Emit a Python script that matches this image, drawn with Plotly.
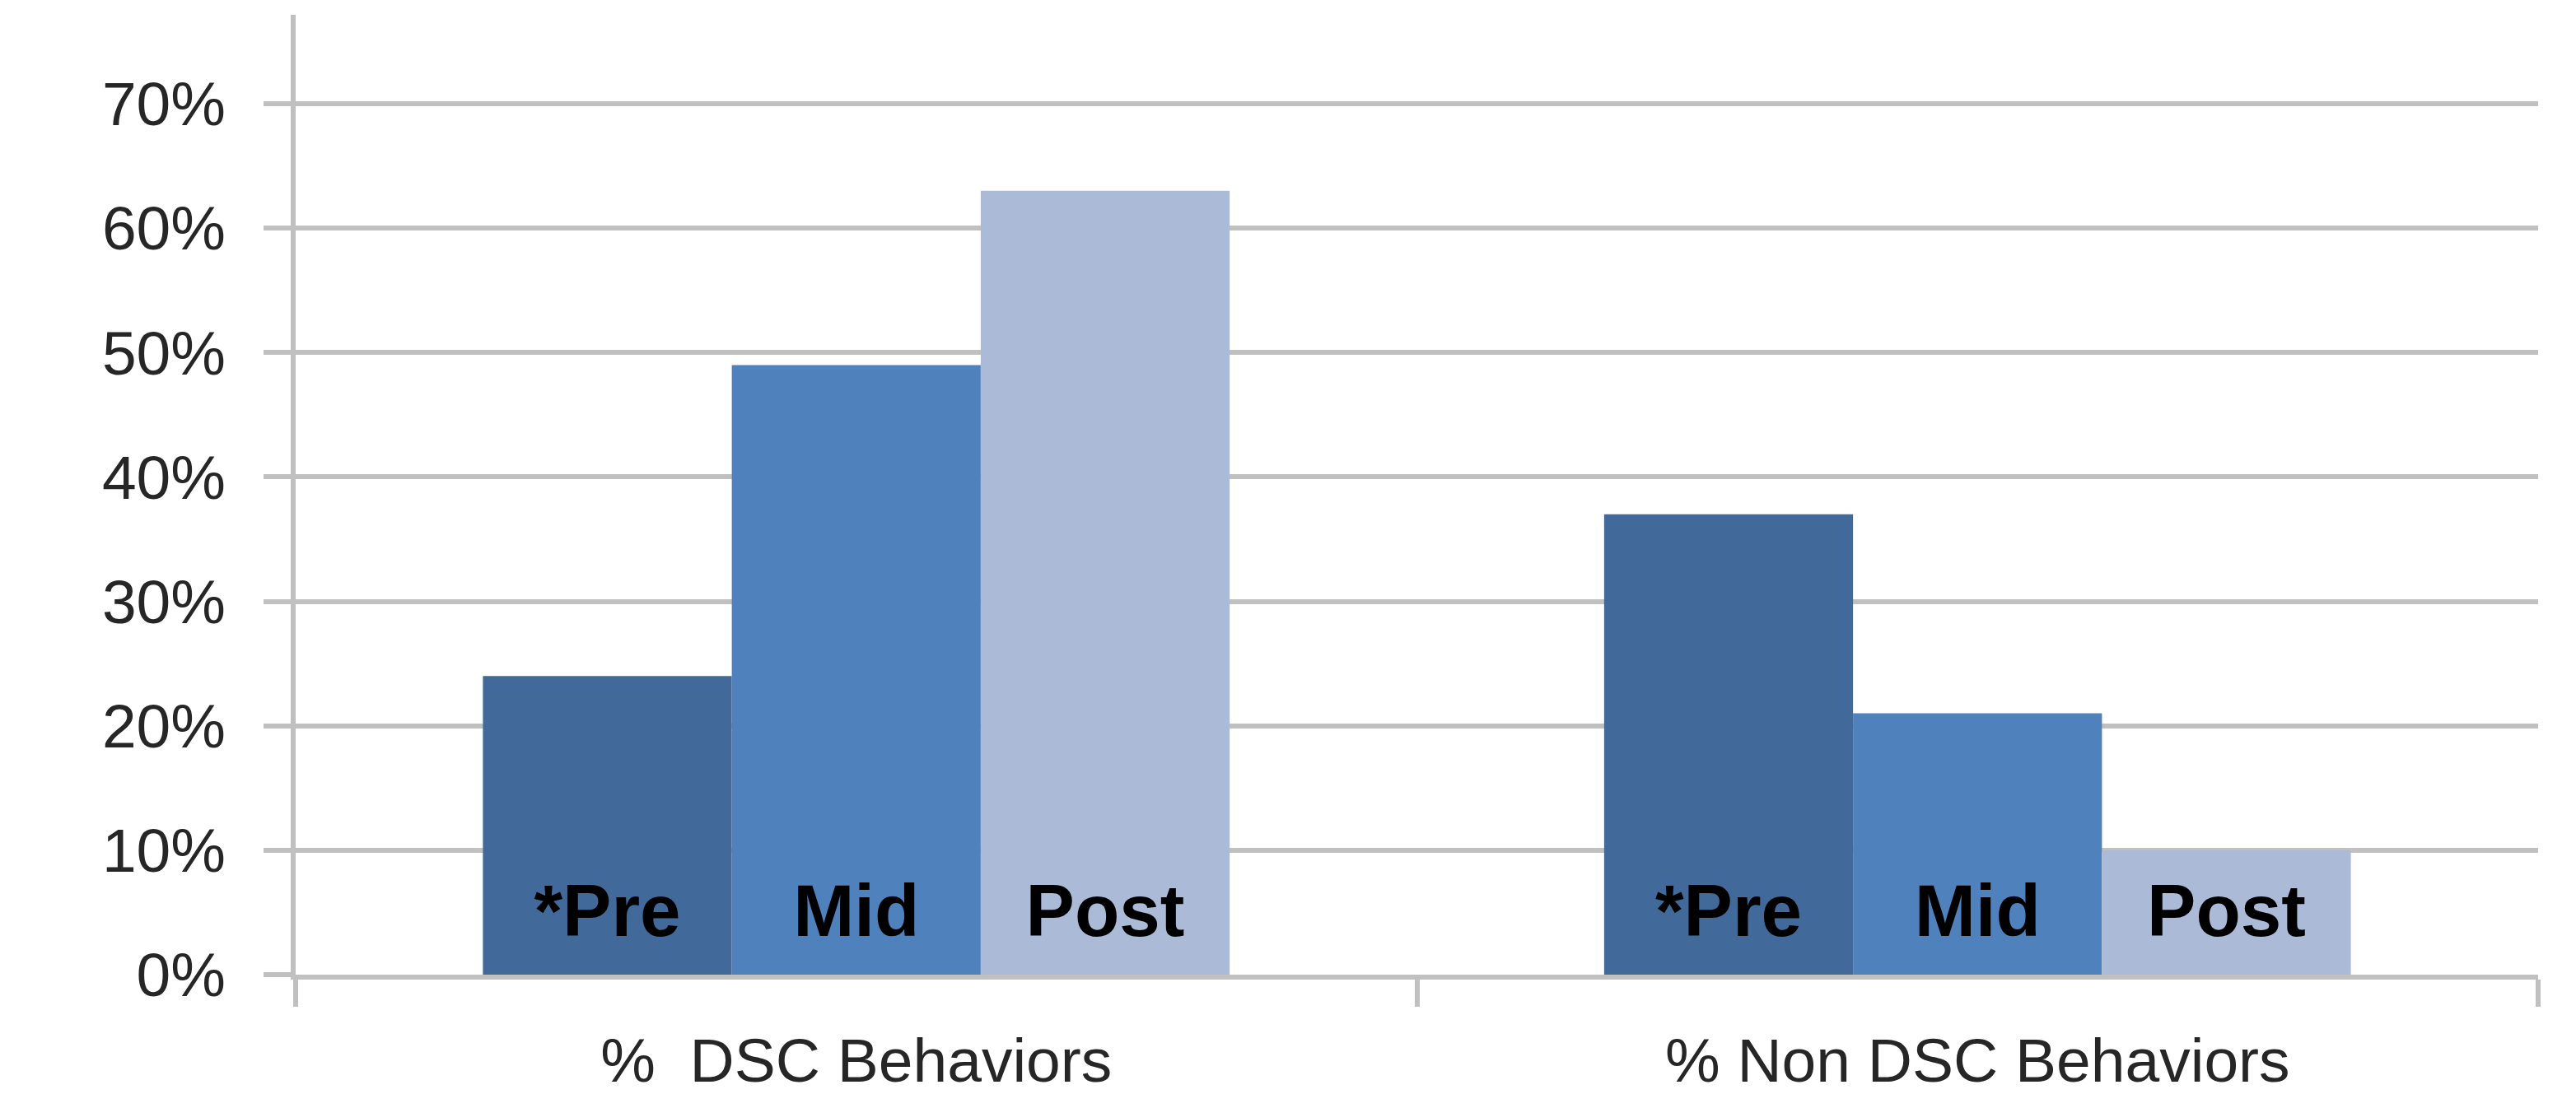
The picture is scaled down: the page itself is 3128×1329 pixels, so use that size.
import plotly.graph_objects as go

# Share of observed behaviors at each phase of the intervention
categories = ["%  DSC Behaviors", "% Non DSC Behaviors"]
phases = ["*Pre", "Mid", "Post"]
pre_values = [0.24, 0.37]
mid_values = [0.49, 0.21]
post_values = [0.63, 0.10]
y_tick_values = [0.0, 0.1, 0.2, 0.3, 0.4, 0.5, 0.6, 0.7]

series_values = [pre_values, mid_values, post_values]
phase_colors = ["#416a9b", "#4f81bc", "#abbad7"]

BARGAP = 0.334
LABEL_Y = 0.046  # vertical centre of the phase names inside the bars
GRID = "#c0c0c0"
FONT = "Liberation Sans"

fig = go.Figure()

for phase, vals, color in zip(phases, series_values, phase_colors):
    fig.add_trace(go.Bar(
        x=categories, y=vals, name=phase,
        marker=dict(color=color, line=dict(width=0)),
        showlegend=False, hoverinfo="x+y+name",
    ))

# Phase names drawn inside the bars, aligned with the grouped bar centres
bar_w = (1 - BARGAP) / len(phases)
label_x, label_y, label_text = [], [], []
for i in range(len(categories)):
    for k, phase in enumerate(phases):
        label_x.append(i + (k - (len(phases) - 1) / 2) * bar_w)
        label_y.append(LABEL_Y)
        label_text.append(phase)

fig.add_trace(go.Scatter(
    x=label_x, y=label_y, text=label_text, mode="text",
    textposition="middle center",
    textfont=dict(family=FONT, size=89, color="#000000", weight="bold"),
    xaxis="x2", showlegend=False, hoverinfo="skip",
))

fig.update_layout(
    width=3128, height=1329,
    margin=dict(l=359, r=46, t=18, b=145),
    paper_bgcolor="white", plot_bgcolor="white",
    barmode="group", bargap=BARGAP, bargroupgap=0,
    xaxis=dict(
        type="category", range=[-0.5, len(categories) - 0.5],
        tickson="boundaries", ticks="outside", ticklen=33, tickwidth=6,
        tickcolor=GRID, showline=True, linecolor=GRID, linewidth=6,
        showgrid=False, zeroline=False, automargin=False,
        tickfont=dict(family=FONT, size=75, color="#262626"),
        ticklabelstandoff=34,
    ),
    xaxis2=dict(
        overlaying="x", range=[-0.5, len(categories) - 0.5],
        visible=False, showgrid=False, zeroline=False,
    ),
    yaxis=dict(
        range=[0, 0.7715], tickvals=y_tick_values, tickformat=".0%",
        showgrid=True, gridcolor=GRID, gridwidth=6,
        showline=True, linecolor=GRID, linewidth=6,
        ticks="outside", ticklen=33, tickwidth=6, tickcolor=GRID,
        zeroline=False, automargin=False,
        tickfont=dict(family=FONT, size=75, color="#262626"),
        ticklabelstandoff=31,
    ),
)

fig.write_html("out.html")
